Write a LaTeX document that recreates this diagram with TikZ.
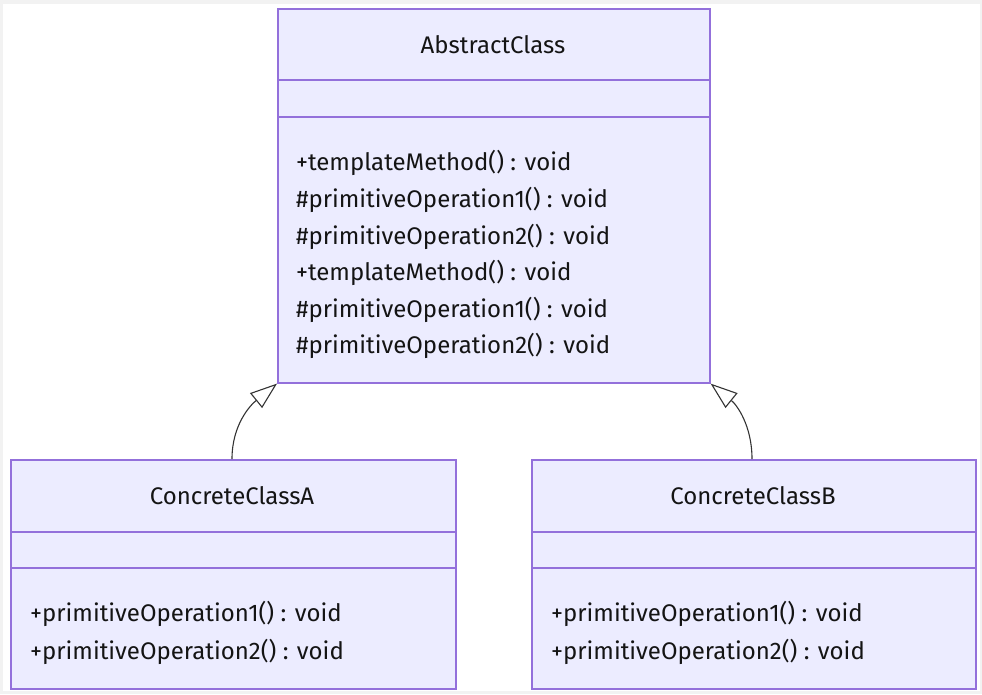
\documentclass[tikz,border=0pt]{standalone}
\usepackage{fontspec}
\setmainfont{Fira Sans}
\usetikzlibrary{arrows.meta}
\definecolor{classfill}{HTML}{ECECFF}
\definecolor{classline}{HTML}{9370DB}
\definecolor{edgeline}{HTML}{333333}
\definecolor{textcol}{HTML}{141414}
\begin{document}
\begin{tikzpicture}[x=1pt,y=-1pt,
	classbox/.style={draw=classline, line width=1.6pt, fill=classfill, anchor=north west, inner sep=0pt},
	title/.style={font=\fontsize{24}{24}\selectfont, text=textcol},
	member/.style={font=\fontsize{24}{24}\selectfont, text=textcol, anchor=west, inner sep=0pt},
	divider/.style={draw=classline, line width=1.6pt},
	inherit/.style={draw=edgeline, line width=1.1pt, -{Triangle[open, length=27pt, width=19pt, fill=white]}}]
	% frame of the picture
	\fill[black!5] (0,0) rectangle (982,694);
	\fill[white] (3,4) rectangle (980,691);
	\useasboundingbox (0,0) rectangle (982,694);
	% abstract class
	\node (abs) at (277,8) [classbox, minimum width=432pt, minimum height=374pt] {};
	\node (abstitle) at (493,45) [title] {AbstractClass};
	\draw [divider] (277,80) -- (709,80);
	\draw [divider] (277,117) -- (709,117);
	\node (absm1) at (296,163) [member] {+templateMethod() : void};
	\node (absm2) at (296,200) [member] {\#primitiveOperation1() : void};
	\node (absm3) at (296,237) [member] {\#primitiveOperation2() : void};
	\node (absm4) at (296,273) [member] {+templateMethod() : void};
	\node (absm5) at (296,310) [member] {\#primitiveOperation1() : void};
	\node (absm6) at (296,346) [member] {\#primitiveOperation2() : void};
	% concrete class A
	\node (ca) at (10,459) [classbox, minimum width=445pt, minimum height=229pt] {};
	\node (catitle) at (232,496) [title] {ConcreteClassA};
	\draw [divider] (10,532) -- (455,532);
	\draw [divider] (10,568) -- (455,568);
	\node (cam1) at (30,614) [member] {+primitiveOperation1() : void};
	\node (cam2) at (30,652) [member] {+primitiveOperation2() : void};
	% concrete class B
	\node (cb) at (531,459) [classbox, minimum width=444pt, minimum height=229pt] {};
	\node (cbtitle) at (753,496) [title] {ConcreteClassB};
	\draw [divider] (531,532) -- (975,532);
	\draw [divider] (531,568) -- (975,568);
	\node (cbm1) at (551,614) [member] {+primitiveOperation1() : void};
	\node (cbm2) at (551,652) [member] {+primitiveOperation2() : void};
	% inheritance
	\coordinate (catop) at (232,459);
	\coordinate (cbtop) at (752,459);
	\draw [inherit] (catop) to[out=90, in=-141] (abs.south west);
	\draw [inherit] (cbtop) to[out=90, in=-39] (abs.south east);
\end{tikzpicture}
\end{document}
